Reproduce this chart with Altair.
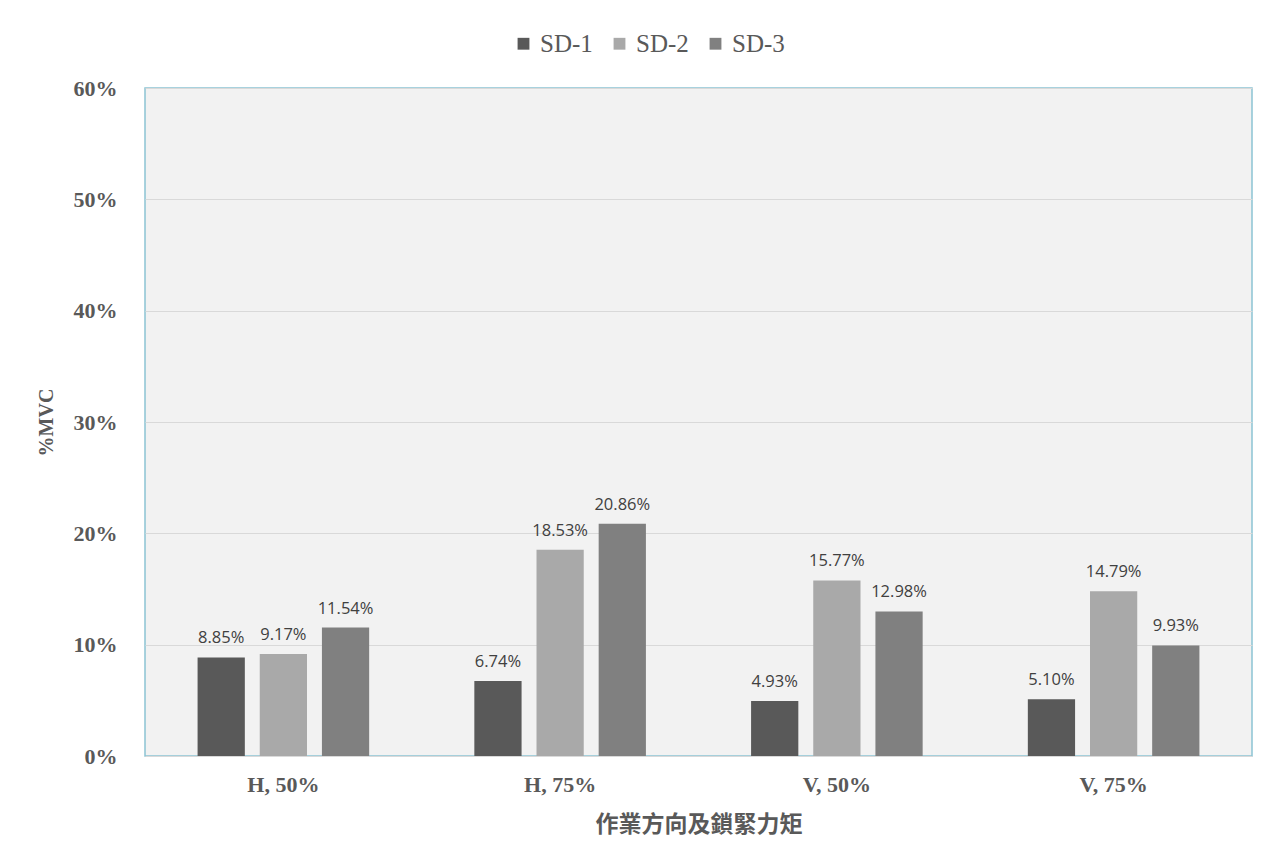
import altair as alt
import pandas as pd

categories = ["H, 50%", "H, 75%", "V, 50%", "V, 75%"]
series = ["SD-1", "SD-2", "SD-3"]
sd1 = [0.0885, 0.0674, 0.0493, 0.0510]
sd2 = [0.0917, 0.1853, 0.1577, 0.1479]
sd3 = [0.1154, 0.2086, 0.1298, 0.0993]
colors = ["#595959", "#a9a9a9", "#808080"]

rows = []
for s, vals in zip(series, [sd1, sd2, sd3]):
    for c, v in zip(categories, vals):
        rows.append({"cat": c, "series": s, "value": v})
df = pd.DataFrame(rows)

x = alt.X("cat:N", sort=categories,
          scale=alt.Scale(paddingInner=0.38, paddingOuter=0.19),
          axis=alt.Axis(title="作業方向及鎖緊力矩", labelAngle=0,
                        labelFont="Liberation Serif", labelFontWeight="bold",
                        labelFontSize=22, labelColor="#595959", labelPadding=18,
                        titleFont="Noto Sans CJK TC", titleFontWeight="bold",
                        titleFontSize=23, titleColor="#595959", titlePadding=18,
                        domain=False, ticks=False))
xo = alt.XOffset("series:N", sort=series,
                 scale=alt.Scale(paddingInner=0.24, paddingOuter=0))
y = alt.Y("value:Q",
          scale=alt.Scale(domain=[0, 0.6], nice=False),
          axis=alt.Axis(title="%MVC", format=".0%", values=[0, 0.1, 0.2, 0.3, 0.4, 0.5, 0.6],
                        labelFont="Liberation Serif", labelFontWeight="bold",
                        labelFontSize=22, labelColor="#595959", labelPadding=28,
                        titleFont="Liberation Serif", titleFontWeight="bold",
                        titleFontSize=20, titleColor="#595959", titlePadding=17,
                        domain=False, ticks=False, gridColor="#d9d9d9", gridWidth=1))

color = alt.Color("series:N", sort=series,
                  scale=alt.Scale(domain=series, range=colors),
                  legend=alt.Legend(title=None, orient="none", direction="horizontal",
                                    legendX=366, legendY=-57,
                                    symbolType="square", symbolSize=140,
                                    symbolStrokeWidth=0, symbolOpacity=1,
                                    labelFont="Liberation Serif", labelFontSize=25,
                                    labelColor="#595959", columnPadding=14,
                                    labelOffset=4))

base = alt.Chart(df)
bars = base.mark_bar(opacity=1).encode(x=x, xOffset=xo, y=y, color=color)
text = base.mark_text(baseline="alphabetic", align="center", dy=-14,
                      font="Open Sans", fontSize=16.5, color="#404040").encode(
    x=alt.X("cat:N", sort=categories), xOffset=alt.XOffset("series:N", sort=series),
    y="value:Q", text=alt.Text("value:Q", format=".2%"))

chart = alt.layer(bars, text).properties(
    width=1107, height=668,
    autosize=alt.AutoSizeParams(type="none"),
    padding={"left": 145, "top": 88, "right": 28, "bottom": 110},
    background="white",
).configure(font="Liberation Serif"
).configure_view(fill="#f2f2f2", stroke="#8cc4d4", strokeWidth=1.5
).configure_legend(labelFont="Liberation Serif", labelFontSize=25)

chart.save("out.html", embed_options={"renderer": "svg", "actions": False})
